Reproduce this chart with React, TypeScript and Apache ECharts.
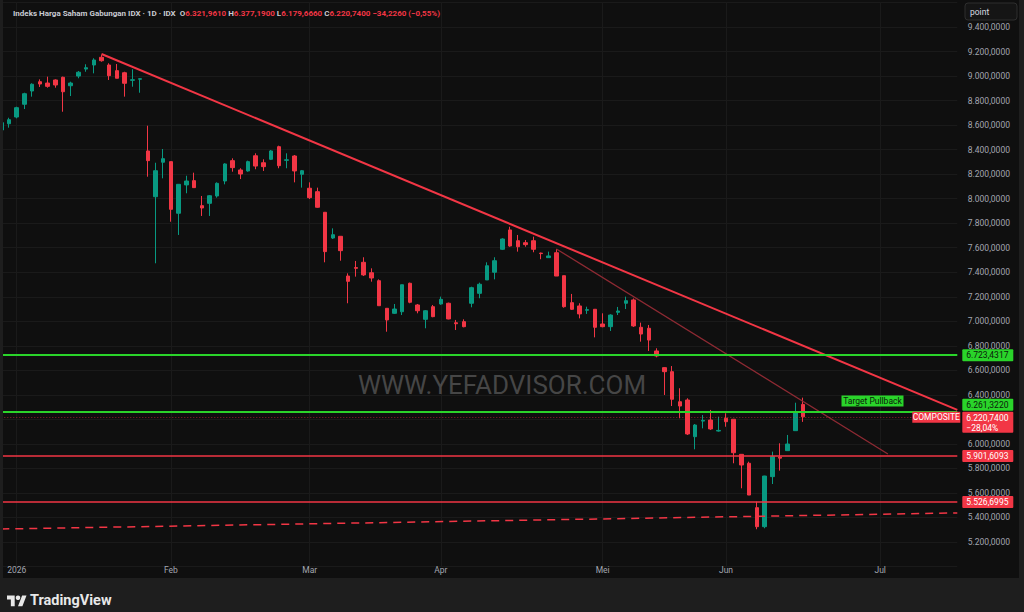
import React, { useEffect, useRef } from 'react';
import * as echarts from 'echarts';

// ---------- data ----------
const N_SLOTS = 125; // trading-day slots on the x axis (incl. empty future)
const OPEN = [8560, 8611, 8666, 8770, 8878, 8954, 8943, 8968, 8990, 8921, 9000, 9057, 9090, 9153, 9090, 9044, 9027, 8965, 8974, 8389,
  8016, 8297, 8302, 7881, 8112, 8147, 7943, 7962, 8022, 8144, 8310, 8234, 8226, 8350, 8293, 8321, 8424, 8313, 8348, 8199,
  8085, 8057, 7889, 7679, 7693, 7369, 7438, 7481, 7396, 7331, 7106, 7065, 7078, 7310, 7133, 7016, 7119, 7141, 7147, 6988,
  6997, 7147, 7228, 7337, 7400, 7587, 7745, 7657, 7641, 7657, 7556, 7519, 7559, 7372, 7152, 7125, 7090, 7098, 6978, 6956,
  7073, 7147, 7174, 6951, 6943, 6758, 6622, 6589, 6344, 6358, 6059, 6186, 6195, 6105, 6209, 6201, 5915, 5842, 5480, 5325,
  5733, 5892, 5945, 6108, 6321.961];
const CLOSE = [8620, 8644, 8742, 8856, 8933, 8935, 8916, 8927, 8872, 8943, 9031, 9068, 9131, 9125, 9003, 8982, 8941, 8970, 8978, 8310,
  8228, 8326, 7913, 8117, 8144, 8090, 7924, 8024, 8125, 8283, 8253, 8201, 8302, 8266, 8261, 8389, 8269, 8317, 8226, 8228,
  8008, 7930, 7568, 7706, 7576, 7326, 7432, 7378, 7353, 7127, 7011, 7100, 7298, 7155, 7086, 7086, 7038, 7179, 7019, 6980,
  6956, 7274, 7302, 7453, 7494, 7671, 7614, 7608, 7625, 7587, 7552, 7533, 7369, 7119, 7098, 7060, 7095, 6951, 6956, 7051,
  7084, 7168, 6962, 6896, 6847, 6717, 6589, 6364, 6309, 6081, 6154, 6192, 6122, 6110, 6181, 5928, 5828, 5583, 5325, 5738,
  5896, 5884, 5999, 6255, 6220.74];
const LOW = [8536, 8579, 8655, 8731, 8832, 8911, 8905, 8905, 8709, 8837, 8982, 9035, 9022, 9117, 8968, 8982, 8832, 8913, 8864, 8179,
  7473, 8166, 7812, 7704, 8044, 8090, 7859, 7859, 8008, 8117, 8220, 8160, 8220, 8240, 8226, 8315, 8248, 8248, 8133, 8090,
  7997, 7926, 7481, 7671, 7494, 7147, 7364, 7369, 7323, 7127, 6915, 7060, 7051, 7147, 7065, 6943, 7033, 7135, 7016, 6929,
  6951, 7114, 7188, 7337, 7342, 7581, 7608, 7568, 7608, 7563, 7506, 7519, 7369, 7111, 7092, 7024, 7060, 6869, 6951, 6921,
  7051, 7100, 6954, 6834, 6758, 6706, 6399, 6309, 6209, 6073, 5956, 6127, 6114, 6100, 6140, 5842, 5638, 5583, 5304, 5312,
  5673, 5782, 5945, 6108, 6179.666];
const HIGH = [8642, 8660, 8750, 8864, 8941, 8973, 8995, 8973, 8995, 8954, 9041, 9096, 9145, 9172, 9104, 9098, 9035, 9055, 8982, 8595,
  8293, 8405, 8302, 8117, 8187, 8212, 8022, 8030, 8133, 8289, 8329, 8248, 8310, 8370, 8321, 8397, 8432, 8370, 8356, 8234,
  8133, 8090, 7889, 7758, 7693, 7391, 7492, 7522, 7432, 7342, 7106, 7141, 7298, 7315, 7141, 7092, 7133, 7201, 7152, 7011,
  7016, 7282, 7315, 7481, 7522, 7677, 7771, 7704, 7663, 7690, 7560, 7568, 7590, 7372, 7223, 7147, 7119, 7098, 7065, 7057,
  7117, 7201, 7186, 6989, 6970, 6780, 6625, 6635, 6454, 6372, 6162, 6236, 6277, 6222, 6250, 6201, 5915, 5855, 5529, 5740,
  5937, 6005, 6073, 6336, 6377.19];

const MONTH_TICKS: [number, string][] = [[2, '2026'], [22, 'Feb'], [40, 'Mar'], [57, 'Apr'], [78, 'Mei'], [94, 'Jun'], [114, 'Jul']];
const Y_MIN = 5000;
const Y_MAX = 9600;
const Y_STEP = 200;

const TREND_MAIN: [number, number][] = [[13, 9180], [124, 6277]];
const TREND_THIN: [number, number][] = [[72, 7590], [115, 5918]];
const TREND_DASHED: [number, number][] = [[0, 5306], [124, 5437]];
const LEVELS_GREEN = [6723.4317, 6261.322];
const LEVELS_RED = [5901.6093, 5526.6995];
const CHANGE = -34.226;
const CHANGE_PCT_DAY = -0.55;
const DRAWDOWN_PCT = -28.04;
const TARGET_LABEL: [number, number, string] = [113, 6350, 'Target Pullback'];
const SYMBOL_TAG = 'COMPOSITE';
const TITLE = 'Indeks Harga Saham Gabungan IDX · 1D · IDX';

// ---------- style ----------
const UP = '#089981';
const DOWN = '#f23645';
const GREEN = '#2ad42a';
const BG = '#0f0f0f';
const FRAME = '#1e1e1e';
const FONT = 'Roboto, "Noto Sans", sans-serif';

const fmt = (v: number, d = 4) => {
  const neg = v < 0;
  const s = Math.abs(v).toFixed(d);
  const [ip, dp] = s.split('.');
  return (neg ? '−' : '') + ip.replace(/\B(?=(\d{3})+(?!\d))/g, '.') + (dp ? ',' + dp : '');
};

echarts.graphic.registerShape(
  'tvlogo',
  echarts.graphic.extendPath('M14 22H7V11H0V4h14v18zM28 22h-8l7.5-18h8L28 22z', {})
);

export default function App() {
  const ref = useRef<HTMLDivElement>(null);
  useEffect(() => {
    document.body.style.margin = '0';
    if (!ref.current) return;
    const chart = echarts.init(ref.current, undefined, { renderer: 'svg' });
    const cats = Array.from({ length: N_SLOTS }, (_, i) => String(i));
    const tickMap = new Map(MONTH_TICKS);
    const candles = OPEN.map((o, i) => [o, CLOSE[i], LOW[i], HIGH[i]]);
    const last = OPEN.length - 1;

    chart.setOption({
      animation: false,
      backgroundColor: BG,
      title: {
        left: 8,
        top: 4,
        text:
          `{g|${TITLE}}  {g|O}{r|${fmt(OPEN[last])}} {g|H}{r|${fmt(HIGH[last])}} {g|L}{r|${fmt(LOW[last])}} {g|C}{r|${fmt(CLOSE[last])}} {r|${fmt(CHANGE)} (${fmt(CHANGE_PCT_DAY, 2)}%)}`,
        textStyle: {
          fontSize: 8,
          fontFamily: FONT,
          rich: {
            g: { color: '#c9cbd2', fontSize: 8, fontFamily: FONT },
            r: { color: DOWN, fontSize: 8, fontFamily: FONT },
          },
        },
      },
      grid: { left: 1.3, top: 2.476, width: 956, height: 564.05, containLabel: false, outerBoundsMode: 'none' },
      xAxis: {
        type: 'category',
        data: cats,
        boundaryGap: false,
        axisLine: { show: false },
        axisTick: { show: false },
        axisLabel: {
          interval: (i: number) => tickMap.has(i),
          formatter: (_v: string, i: number) => tickMap.get(i) || '',
          color: '#a3a6af',
          fontSize: 8.5,
          fontFamily: FONT,
          margin: 3,
          verticalAlign: 'middle',
        },
        splitLine: {
          show: true,
          interval: (i: number) => tickMap.has(i),
          lineStyle: { color: '#1a1a1a', width: 1 },
        },
      },
      yAxis: {
        type: 'value',
        position: 'right',
        min: Y_MIN,
        max: Y_MAX,
        interval: Y_STEP,
        axisLine: { show: false },
        axisTick: { show: false },
        axisLabel: {
          margin: 10.5,
          align: 'left',
          color: '#a3a6af',
          fontSize: 8.5,
          fontFamily: FONT,
          showMinLabel: false,
          showMaxLabel: false,
          formatter: (v: number) => fmt(v),
        },
        splitLine: { show: true, lineStyle: { color: '#1a1a1a', width: 1 } },
      },
      series: [
        {
          type: 'candlestick',
          data: candles,
          barWidth: 4,
          itemStyle: { color: UP, color0: DOWN, borderColor: UP, borderColor0: DOWN, borderWidth: 1 },
          markLine: {
            silent: true,
            symbol: ['none', 'none'],
            label: { show: false },
            data: [
              { yAxis: LEVELS_GREEN[0], lineStyle: { color: GREEN, width: 2, type: 'solid' } },
              { yAxis: LEVELS_GREEN[1], lineStyle: { color: GREEN, width: 2, type: 'solid' } },
              { yAxis: LEVELS_RED[0], lineStyle: { color: DOWN, width: 1.6, type: 'solid' } },
              { yAxis: LEVELS_RED[1], lineStyle: { color: DOWN, width: 1.6, type: 'solid' } },
              { yAxis: CLOSE[last], lineStyle: { color: 'rgba(242,54,69,0.55)', width: 1, type: [1, 2] } },
            ],
          },
        },
        {
          type: 'line',
          data: TREND_MAIN,
          symbol: 'none',
          silent: true,
          lineStyle: { color: DOWN, width: 2 },
          z: 3,
        },
        {
          type: 'line',
          data: TREND_THIN,
          symbol: 'none',
          silent: true,
          lineStyle: { color: '#8e2a33', width: 1.3 },
          z: 3,
        },
        {
          type: 'line',
          data: TREND_DASHED,
          symbol: 'none',
          silent: true,
          lineStyle: { color: DOWN, width: 1.5, type: [8, 6] },
          z: 3,
        },
      ],
    });

    const px = (i: number, v: number) => chart.convertToPixel({ gridIndex: 0 }, [i, v]) as number[];
    const edge = px(N_SLOTS - 1, CLOSE[last])[0];
    const tagX = edge + 5;
    const tagW = 51;
    const tag = (v: number, fill: string, textColor: string, text: string, dy = 0, h = 12) => {
      const y = px(0, v)[1] + dy;
      return [
        { type: 'rect', z: 100, shape: { x: tagX, y: y - 6, width: tagW, height: h, r: 1 }, style: { fill } },
        {
          type: 'text', z: 101, x: tagX + 4, y: y - 6 + 1.5,
          style: { text, fill: textColor, fontSize: 8.5, fontFamily: FONT, verticalAlign: 'top', align: 'left', lineHeight: 9.5 },
        },
      ];
    };
    const tp = px(TARGET_LABEL[0], TARGET_LABEL[1]);
    const lastPx = px(N_SLOTS - 1, CLOSE[last]);

    chart.setOption({
      graphic: [
        // frame
        { type: 'rect', z: 90, shape: { x: 0, y: 578, width: 1024, height: 34 }, style: { fill: FRAME } },
        { type: 'rect', z: 90, shape: { x: 0, y: 0, width: 3, height: 612 }, style: { fill: FRAME } },
        { type: 'rect', z: 90, shape: { x: 1019, y: 0, width: 5, height: 612 }, style: { fill: FRAME } },
        // watermark
        {
          type: 'text', z: 5, x: 502, y: 385,
          style: { text: 'WWW.YEFADVISOR.COM', fill: 'rgba(125,125,125,0.5)', fontSize: 26, fontFamily: FONT, align: 'center', verticalAlign: 'middle' },
        },
        // unit box
        { type: 'rect', z: 100, shape: { x: 965, y: 3, width: 52, height: 17, r: 3 }, style: { fill: '#151515', stroke: '#2e2e2e', lineWidth: 1 } },
        { type: 'text', z: 101, x: 970, y: 11.5, style: { text: 'point', fill: '#d9dbe0', fontSize: 8.5, fontFamily: FONT, verticalAlign: 'middle' } },
        // price tags
        ...tag(LEVELS_GREEN[0], GREEN, '#0b1a0b', fmt(LEVELS_GREEN[0])),
        ...tag(LEVELS_GREEN[1], GREEN, '#0b1a0b', fmt(LEVELS_GREEN[1]), -7),
        ...tag(CLOSE[last], DOWN, '#ffffff', fmt(CLOSE[last]) + '\n' + fmt(DRAWDOWN_PCT, 2) + '%', 1, 21),
        ...tag(LEVELS_RED[0], DOWN, '#ffffff', fmt(LEVELS_RED[0])),
        ...tag(LEVELS_RED[1], DOWN, '#ffffff', fmt(LEVELS_RED[1])),
        // target label
        { type: 'rect', z: 100, shape: { x: tp[0] - 31, y: tp[1] - 5.5, width: 62, height: 11 }, style: { fill: GREEN } },
        { type: 'text', z: 101, x: tp[0], y: tp[1], style: { text: TARGET_LABEL[2], fill: '#0b1a0b', fontSize: 8.5, fontFamily: FONT, align: 'center', verticalAlign: 'middle' } },
        // symbol tag
        { type: 'rect', z: 100, shape: { x: lastPx[0] - 45, y: lastPx[1] - 5, width: 48, height: 11 }, style: { fill: DOWN } },
        { type: 'text', z: 101, x: lastPx[0] - 21, y: lastPx[1] + 0.5, style: { text: SYMBOL_TAG, fill: '#ffffff', fontSize: 8.5, fontFamily: FONT, align: 'center', verticalAlign: 'middle' } },
        // TradingView footer
        { type: 'tvlogo', z: 101, x: 7, y: 593, scaleX: 0.55, scaleY: 0.6, style: { fill: '#e8e8e8' } },
        { type: 'circle', z: 101, shape: { cx: 7 + 20 * 0.55, cy: 593 + 8 * 0.6, r: 2.3 }, style: { fill: '#e8e8e8' } },
        { type: 'text', z: 101, x: 30, y: 600.5, style: { text: 'TradingView', fill: '#e8e8e8', fontSize: 14.5, fontWeight: 'bold', fontFamily: FONT, verticalAlign: 'middle' } },
      ],
    });

    return () => chart.dispose();
  }, []);
  return <div ref={ref} style={{ position: 'fixed', left: 0, top: 0, width: 1024, height: 612 }} />;
}
